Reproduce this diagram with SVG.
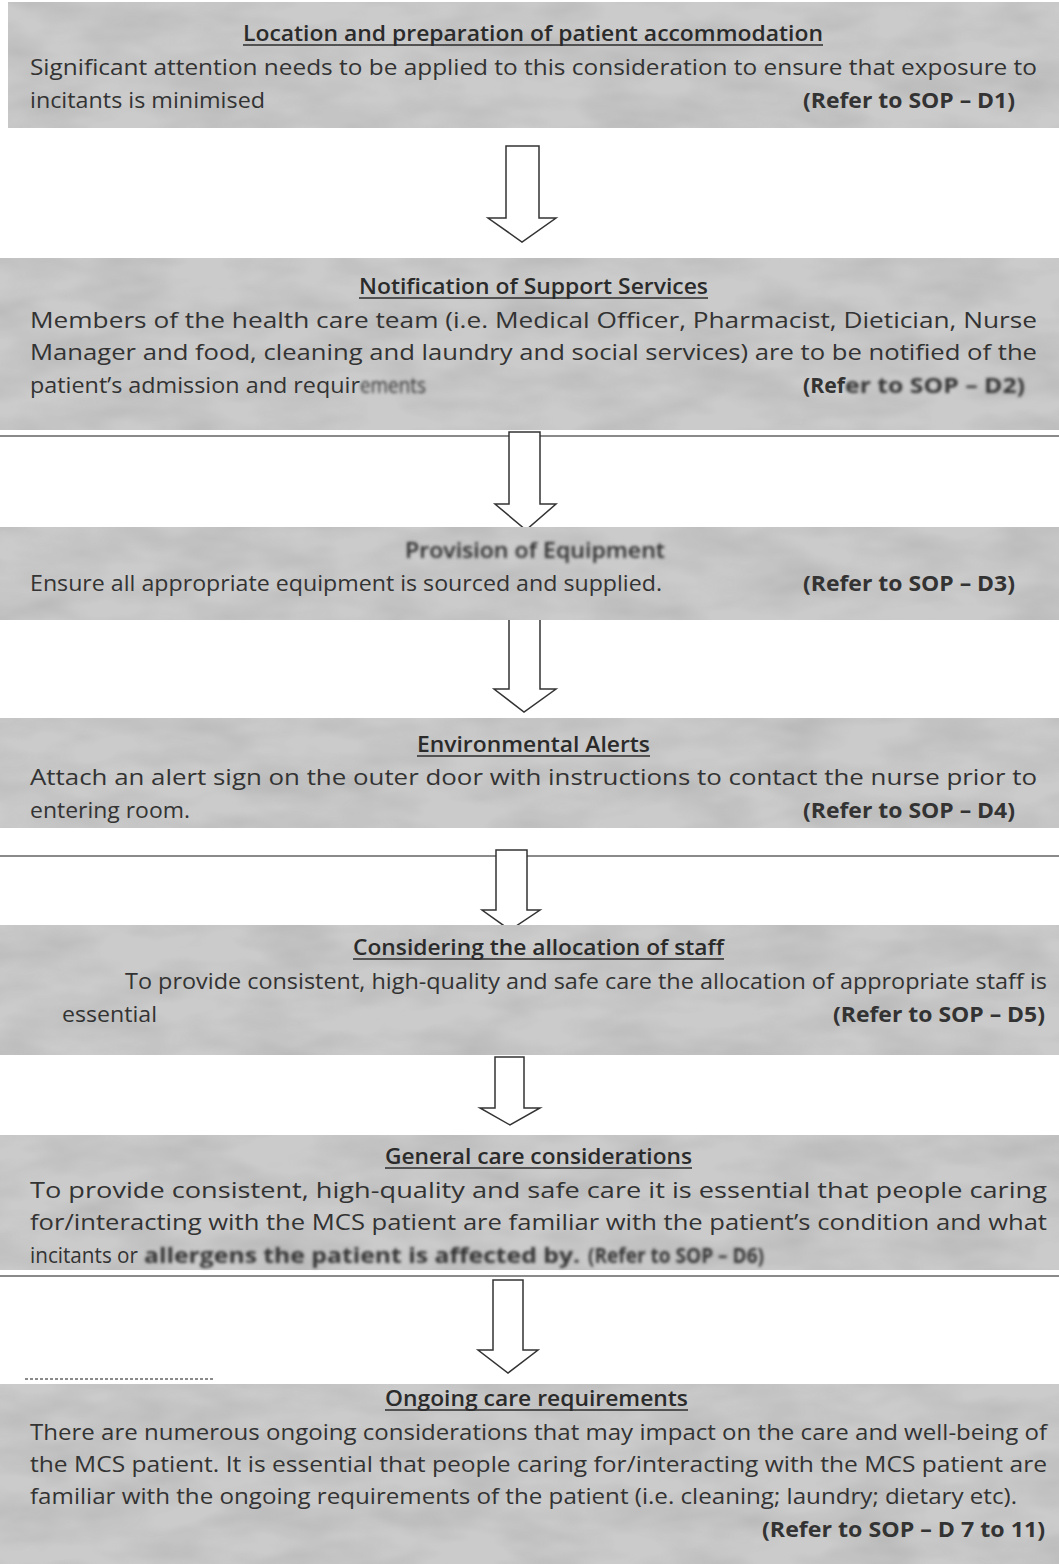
<svg xmlns="http://www.w3.org/2000/svg" width="1059" height="1564" viewBox="0 0 1059 1564">
<defs>
<filter id="tex" x="0" y="0" width="100%" height="100%">
<feTurbulence type="fractalNoise" baseFrequency="0.012 0.03" numOctaves="3" seed="7" result="n"/>
<feColorMatrix in="n" type="matrix" values="0 0 0 0 0.45  0 0 0 0 0.45  0 0 0 0 0.45  0 0 0 1.8 -0.6"/>
</filter>
<filter id="blur" x="-5%" y="-30%" width="110%" height="160%">
<feGaussianBlur stdDeviation="1.6"/>
</filter>
<style>
.box{fill:#cbcbcb}
.texture{fill:#000;filter:url(#tex);opacity:0.7}
.title{font-family:"Open Sans","Liberation Sans",sans-serif;font-size:21px;font-weight:600;fill:#2b2b2b}
.ul{stroke:#2b2b2b;stroke-width:1.6}
.body{font-family:"Open Sans","Liberation Sans",sans-serif;font-size:21px;fill:#333}
.ref{font-family:"Open Sans","Liberation Sans",sans-serif;font-size:21px;font-weight:700;fill:#333}
.arrow{fill:#ffffff;stroke:#333;stroke-width:1.5;stroke-linejoin:miter}
.scan{stroke:#8a8a8a;stroke-width:2}
.bl{filter:url(#blur)}
</style>
</defs>
<rect width="1059" height="1564" fill="#ffffff"/>

<g id="scanlines">
<line class="scan" x1="0" y1="436" x2="1059" y2="436"/>
<line class="scan" x1="0" y1="856" x2="1059" y2="856"/>
<line class="scan" x1="0" y1="1276" x2="1059" y2="1276"/>
<line class="scan" x1="25" y1="1379" x2="215" y2="1379" stroke-dasharray="3 2"/>
</g>

<g id="connectors">
<polygon class="arrow" points="506,146 539,146 539,218 556,218 522,242 488,218 506,218"/>
<polygon class="arrow" points="509,432 540,432 540,504 556,504 526,530 495,504 509,504"/>
<polygon class="arrow" points="509,617 540,617 540,689 556,689 524,712 494,689 509,689"/>
<polygon class="arrow" points="496,850 527,850 527,910 540,910 510,930 482,910 496,910"/>
<polygon class="arrow" points="495,1057 524,1057 524,1108 540,1108 510,1125 480,1108 495,1108"/>
<polygon class="arrow" points="493,1280 523,1280 523,1350 538,1350 508,1373 478,1350 493,1350"/>
</g>

<g id="node1">
<rect class="box" x="8" y="2" width="1051" height="126"/>
<rect class="texture" x="8" y="2" width="1051" height="126"/>
<text class="title" x="243" y="41" textLength="580" lengthAdjust="spacingAndGlyphs">Location and preparation of patient accommodation</text>
<line class="ul" x1="243" y1="45" x2="823" y2="45"/>
<text class="body" x="30" y="75" textLength="1007" lengthAdjust="spacingAndGlyphs">Significant attention needs to be applied to this consideration to ensure that exposure to</text>
<text class="body" x="30" y="108" textLength="235" lengthAdjust="spacingAndGlyphs">incitants is minimised</text>
<text class="ref" x="803" y="108" textLength="212" lengthAdjust="spacingAndGlyphs">(Refer to SOP – D1)</text>
</g>

<g id="node2">
<rect class="box" x="0" y="258" width="1059" height="172"/>
<rect class="texture" x="0" y="258" width="1059" height="172"/>
<text class="title" x="359" y="294" textLength="349" lengthAdjust="spacingAndGlyphs">Notification of Support Services</text>
<line class="ul" x1="359" y1="298" x2="708" y2="298"/>
<text class="body" x="30" y="328" textLength="1007" lengthAdjust="spacingAndGlyphs">Members of the health care team (i.e. Medical Officer, Pharmacist, Dietician, Nurse</text>
<text class="body" x="30" y="360" textLength="1007" lengthAdjust="spacingAndGlyphs">Manager and food, cleaning and laundry and social services) are to be notified of the</text>
<text class="body" x="30" y="393" textLength="330" lengthAdjust="spacingAndGlyphs">patient’s admission and requir</text>
<text class="body bl" x="360" y="393" textLength="66" lengthAdjust="spacingAndGlyphs">ements</text>
<text class="ref" x="803" y="393" textLength="42" lengthAdjust="spacingAndGlyphs">(Ref</text>
<text class="ref bl" x="845" y="393" textLength="180" lengthAdjust="spacingAndGlyphs">er to SOP – D2)</text>
</g>

<g id="node3">
<rect class="box" x="0" y="527" width="1059" height="93"/>
<rect class="texture" x="0" y="527" width="1059" height="93"/>
<text class="title bl" x="405" y="558" textLength="260" lengthAdjust="spacingAndGlyphs">Provision of Equipment</text>
<line class="ul bl" x1="405" y1="562" x2="665" y2="562"/>
<text class="body" x="30" y="591" textLength="632" lengthAdjust="spacingAndGlyphs">Ensure all appropriate equipment is sourced and supplied.</text>
<text class="ref" x="803" y="591" textLength="212" lengthAdjust="spacingAndGlyphs">(Refer to SOP – D3)</text>
</g>

<g id="node4">
<rect class="box" x="0" y="718" width="1059" height="110"/>
<rect class="texture" x="0" y="718" width="1059" height="110"/>
<text class="title" x="417" y="752" textLength="233" lengthAdjust="spacingAndGlyphs">Environmental Alerts</text>
<line class="ul" x1="417" y1="756" x2="650" y2="756"/>
<text class="body" x="30" y="785" textLength="1007" lengthAdjust="spacingAndGlyphs">Attach an alert sign on the outer door with instructions to contact the nurse prior to</text>
<text class="body" x="30" y="818" textLength="160" lengthAdjust="spacingAndGlyphs">entering room.</text>
<text class="ref" x="803" y="818" textLength="212" lengthAdjust="spacingAndGlyphs">(Refer to SOP – D4)</text>
</g>

<g id="node5">
<rect class="box" x="0" y="925" width="1059" height="130"/>
<rect class="texture" x="0" y="925" width="1059" height="130"/>
<text class="title" x="353" y="955" textLength="371" lengthAdjust="spacingAndGlyphs">Considering the allocation of staff</text>
<line class="ul" x1="353" y1="959" x2="724" y2="959"/>
<text class="body" x="125" y="989" textLength="922" lengthAdjust="spacingAndGlyphs">To provide consistent, high-quality and safe care the allocation of appropriate staff is</text>
<text class="body" x="62" y="1022" textLength="95" lengthAdjust="spacingAndGlyphs">essential</text>
<text class="ref" x="833" y="1022" textLength="212" lengthAdjust="spacingAndGlyphs">(Refer to SOP – D5)</text>
</g>

<g id="node6">
<rect class="box" x="0" y="1135" width="1059" height="135"/>
<rect class="texture" x="0" y="1135" width="1059" height="135"/>
<text class="title" x="385" y="1164" textLength="307" lengthAdjust="spacingAndGlyphs">General care considerations</text>
<line class="ul" x1="385" y1="1168" x2="692" y2="1168"/>
<text class="body" x="30" y="1198" textLength="1017" lengthAdjust="spacingAndGlyphs">To provide consistent, high-quality and safe care it is essential that people caring</text>
<text class="body" x="30" y="1230" textLength="1017" lengthAdjust="spacingAndGlyphs">for/interacting with the MCS patient are familiar with the patient’s condition and what</text>
<text class="body" x="30" y="1263" textLength="108" lengthAdjust="spacingAndGlyphs">incitants or</text>
<text class="ref bl" x="144" y="1263" textLength="436" lengthAdjust="spacingAndGlyphs">allergens the patient is affected by.</text>
<text class="ref bl" x="588" y="1263" textLength="176" lengthAdjust="spacingAndGlyphs">(Refer to SOP – D6)</text>
</g>

<g id="node7">
<rect class="box" x="0" y="1384" width="1059" height="180"/>
<rect class="texture" x="0" y="1384" width="1059" height="180"/>
<text class="title" x="385" y="1406" textLength="303" lengthAdjust="spacingAndGlyphs">Ongoing care requirements</text>
<line class="ul" x1="385" y1="1410" x2="688" y2="1410"/>
<text class="body" x="30" y="1440" textLength="1017" lengthAdjust="spacingAndGlyphs">There are numerous ongoing considerations that may impact on the care and well-being of</text>
<text class="body" x="30" y="1472" textLength="1017" lengthAdjust="spacingAndGlyphs">the MCS patient. It is essential that people caring for/interacting with the MCS patient are</text>
<text class="body" x="30" y="1504" textLength="987" lengthAdjust="spacingAndGlyphs">familiar with the ongoing requirements of the patient (i.e. cleaning; laundry; dietary etc).</text>
<text class="ref" x="762" y="1537" textLength="283" lengthAdjust="spacingAndGlyphs">(Refer to SOP – D 7 to 11)</text>
</g>
</svg>
